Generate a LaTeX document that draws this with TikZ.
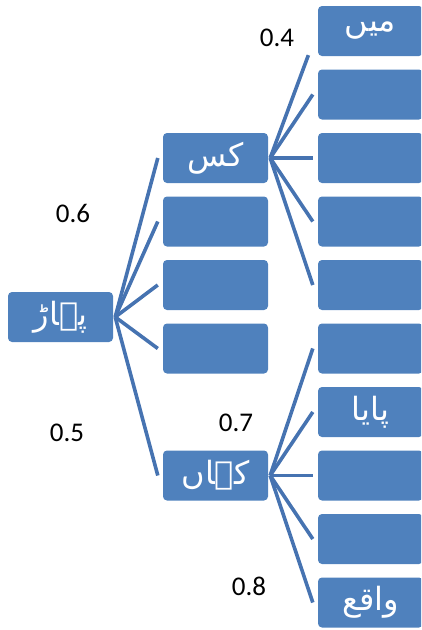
\documentclass[tikz,border=0pt]{standalone}
\usepackage{fontspec}
\setmainfont{Carlito}
\newfontfamily\urdu[Script=Arabic]{DejaVu Sans}
\TeXXeTstate=1
\usetikzlibrary{calc}
\definecolor{boxblue}{HTML}{4F81BD}
\definecolor{linkblue}{HTML}{4673B1}

\begin{document}
\begin{tikzpicture}[x=1pt,y=-1pt,
  box/.style={fill=boxblue, rounded corners=4pt, minimum width=105pt,
    minimum height=50pt, inner sep=0pt, text=white,
    font=\urdu\fontsize{32}{36}\selectfont},
  link/.style={draw=linkblue, line width=3.6pt},
  prob/.style={font=\fontsize{27}{30}\selectfont, inner sep=0pt, text=black}]

\useasboundingbox (0,0) rectangle (421,630);
\clip (0,0) rectangle (421,630);

% root
\node[box] (root) at (60.5,317) {\beginR پہاڑ\endR};

% first level
\node[box] (kas)   at (215.5,158)   {\beginR کس\endR};
\node[box] (a2)    at (215.5,221.5) {};
\node[box] (a3)    at (215.5,285)   {};
\node[box] (a4)    at (215.5,348.5) {};
\node[box] (kahan) at (215.5,475.5) {\beginR کہاں\endR};

% second level
\node[box] (c1)  at (370.5,31)    {\beginR میں\endR};
\node[box] (c2)  at (370.5,94.5)  {};
\node[box] (c3)  at (370.5,158)   {};
\node[box] (c4)  at (370.5,221.5) {};
\node[box] (c5)  at (370.5,285)   {};
\node[box] (c6)  at (370.5,348.5) {};
\node[box] (c7)  at (370.5,412)   {\beginR پایا\endR};
\node[box] (c8)  at (370.5,475.5) {};
\node[box] (c9)  at (370.5,539)   {};
\node[box] (c10) at (370.5,602.5) {\beginR واقع\endR};

% connectors: root to first level
\foreach \t in {kas,a2,a3,a4,kahan}
  \draw[link] ($(root.east)+(2,0)$) -- ($(\t.west)+(-5,0)$);

% connectors: kas to its children
\draw[link] ($(kas.east)+(2,0)$) -- ($(kas.east)!0.81!(c1.west)$);
\foreach \t in {c2,c3,c4,c5}
  \draw[link] ($(kas.east)+(2,0)$) -- ($(\t.west)+(-5,0)$);

% connectors: kahan to its children
\foreach \t in {c6,c7,c8,c9,c10}
  \draw[link] ($(kahan.east)+(2,0)$) -- ($(\t.west)+(-5,0)$);

% probabilities
\node[prob] (p4) at (277,38)  {0.4};
\node[prob] (p6) at (73,213)  {0.6};
\node[prob] (p5) at (67,433)  {0.5};
\node[prob] (p7) at (236,423) {0.7};
\node[prob] (p8) at (249,586) {0.8};
\end{tikzpicture}
\end{document}
